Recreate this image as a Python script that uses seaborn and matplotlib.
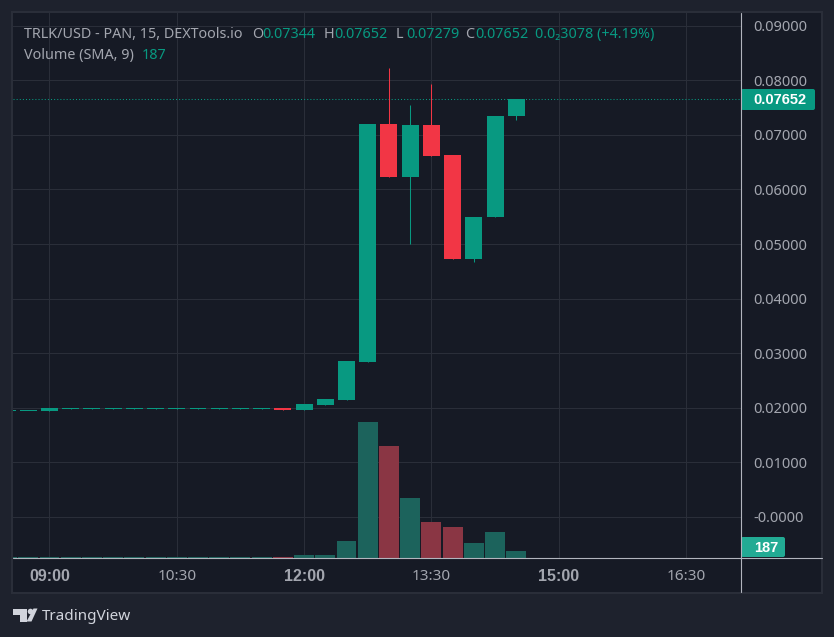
import matplotlib
matplotlib.use('Agg')
import matplotlib.pyplot as plt
import pandas as pd
import seaborn as sns
from matplotlib.lines import Line2D
from matplotlib.patches import Circle, FancyBboxPatch, Polygon

# minutes after midnight for each 15 min candle, 08:30 to 14:30
minutes = [510, 525, 540, 555, 570, 585, 600, 615, 630, 645, 660, 675, 690, 705,
           720, 735, 750, 765, 780, 795, 810, 825, 840, 855, 870]
opens = [.01941, .01941, .01941, .01978, .01978, .01978, .01978, .01978, .01978, .01978,
         .01978, .01978, .01978, .01996, .01960, .02050, .02143, .02839, .07198, .06227,
         .07180, .06630, .04725, .05490, .07344]
closes = [.01959, .01950, .01996, .01996, .01996, .01996, .01996, .01996, .01996, .01996,
          .01996, .01996, .01996, .01960, .02070, .02160, .02857, .07198, .06227, .07180,
          .06610, .04725, .05490, .07344, .07652]
highs = [.01959, .01950, .01996, .01996, .01996, .01996, .01996, .01996, .01996, .01996,
         .01996, .01996, .01996, .01996, .02070, .02160, .02857, .07198, .08223, .07546,
         .07930, .06630, .05490, .07344, .07652]
lows = [.01941, .01941, .01941, .01978, .01978, .01978, .01978, .01978, .01978, .01978,
        .01978, .01978, .01978, .01960, .01960, .02050, .02143, .02839, .06227, .05000,
        .06610, .04725, .04670, .05490, .07279]
volumes = [15, 25, 25, 25, 25, 25, 25, 25, 25, 25, 25, 25, 25, 30, 80, 80, 454,
           3631, 2990, 1602, 961, 828, 400, 694, 187]

price_ticks = [0.0, .01, .02, .03, .04, .05, .06, .07, .08, .09]
price_labels = ['-0.0000', '0.01000', '0.02000', '0.03000', '0.04000', '0.05000',
                '0.06000', '0.07000', '0.08000', '0.09000']
time_ticks = [540, 630, 720, 810, 900, 990]
time_labels = ['09:00', '10:30', '12:00', '13:30', '15:00', '16:30']
bold_times = ['09:00', '12:00', '15:00']
last_price = 0.07652

PANE = '#161A25'
OUTER = '#1E222D'
BORDER = '#2A2E39'
GRID = '#2A2E39'
AXIS = '#B2B5BE'
TEXT = '#A3A6AF'
UP = '#089981'
DOWN = '#F23645'
VOL_UP = '#1C635C'
VOL_DOWN = '#8A3644'

W, H = 834, 637

sns.set_theme(style='dark')
plt.rcParams['font.family'] = ['Noto Sans', 'DejaVu Sans']

df = pd.DataFrame({'minute': minutes, 'open': opens, 'close': closes, 'high': highs,
                   'low': lows, 'volume': volumes})
df['side'] = ['up' if c >= o else 'down' for o, c in zip(df['open'], df['close'])]
df['body'] = (df['close'] - df['open']).abs().clip(lower=0.00018)
df['base'] = df[['open', 'close']].min(axis=1)


def px_rect(x0, y0, x1, y1):
    return [x0 / W, 1 - y1 / H, (x1 - x0) / W, (y1 - y0) / H]


fig = plt.figure(figsize=(W / 100, H / 100), dpi=100, facecolor=OUTER)
fig.add_artist(plt.Rectangle((12 / W, 1 - 593 / H), 810 / W, 581 / H, transform=fig.transFigure,
                             facecolor=PANE, edgecolor=BORDER, linewidth=1.5, zorder=-1))

ax = fig.add_axes(px_rect(13, 13, 741, 558), facecolor=PANE)
vol_ax = ax.twinx()
vol_ax.patch.set_visible(False)

ax.hlines(price_ticks, 0, 2000, color=GRID, linewidth=0.75, zorder=0)
ax.vlines(time_ticks, -1, 1, color=GRID, linewidth=0.75, zorder=0)

for side, color in [('up', UP), ('down', DOWN)]:
    part = df[df['side'] == side]
    ax.vlines(part['minute'], part['low'], part['high'], color=color, linewidth=0.75, zorder=2)
    sns.barplot(data=part, x='minute', y='body', bottom=part['base'].to_numpy(),
                native_scale=True, color=color, saturation=1, width=0.8, linewidth=0,
                zorder=3, ax=ax)

ax.axhline(last_price, color=UP, linewidth=0.75, linestyle=(0, (1, 2)), zorder=1)

# volume twin only shares the bottom of the pane, no candle reaches it
sns.barplot(data=df, x='minute', y='volume', hue='side', dodge=False, native_scale=True,
            palette={'up': VOL_UP, 'down': VOL_DOWN}, saturation=1, width=0.94, legend=False,
            linewidth=0, ax=vol_ax)
vol_ax.set_ylim(0, 545 * 26.7)
vol_ax.set_yticks([])
vol_ax.set_ylabel('')
vol_ax.grid(False)

ax.set_xlim(514.2, 1028.9)
ax.set_ylim(-0.00751, 0.09231)
ax.set_yticks(price_ticks)
ax.set_yticklabels(price_labels)
ax.set_xticks(time_ticks)
ax.set_xticklabels(time_labels)
ax.set_xlabel('')
ax.set_ylabel('')
ax.yaxis.tick_right()
ax.tick_params(axis='y', length=0, pad=9, labelsize=10.5, colors=TEXT)
ax.tick_params(axis='x', length=0, pad=8, labelsize=11, colors=TEXT)
ax.grid(False)
# Noto Sans has no bold cut here
for lbl in ax.get_xticklabels():
    if lbl.get_text() in bold_times:
        lbl.set_fontfamily('Liberation Sans')
        lbl.set_fontweight('bold')
        lbl.set_fontsize(11.5)
for a in (ax, vol_ax):
    for spine in a.spines.values():
        spine.set_visible(False)

# axis lines run past the pane, into the scale areas
fig.add_artist(Line2D([741 / W, 741 / W], [1 - 13 / H, 1 - 592 / H], color=AXIS, linewidth=0.8))
fig.add_artist(Line2D([13 / W, 822 / W], [1 - 558 / H, 1 - 558 / H], color=AXIS, linewidth=0.8))


def tag(x0, y0, x1, y1, color, text, tx):
    fig.add_artist(FancyBboxPatch((x0, H - y1), x1 - x0, y1 - y0, boxstyle='round,pad=0,rounding_size=2',
                                  transform=None, facecolor=color, edgecolor='none'))
    fig.text(tx / W, 1 - ((y0 + y1) / 2 + 0.5) / H, text, color='white', fontsize=10.5, fontweight='bold',
             family='Liberation Sans', ha='center', va='center')


tag(741, 89, 815, 110, UP, '0.07652', 780)
tag(741, 537, 785, 557, '#22AB94', '187', 766)

# legend rows: (x pixel, text, color)
rows = [(24, 33, 'TRLK/USD - PAN, 15, DEXTools.io', TEXT), (252, 33, 'O', TEXT), (262, 33, '0.07344', UP),
        (324, 33, 'H', TEXT), (334, 33, '0.07652', UP), (396, 33, 'L', TEXT), (406, 33, '0.07279', UP),
        (465, 33, 'C', TEXT), (475, 33, '0.07652', UP), (535, 33, '0.0\u20823078 (+4.19%)', UP),
        (24, 54, 'Volume (SMA, 9)', TEXT), (142, 54, '187', UP)]
for x, y, s, c in rows:
    fig.text(x / W, 1 - (y + 1.5) / H, s, color=c, fontsize=10.35, ha='left', va='center')

# TradingView mark
LOGO = '#D1D4DC'
for pts in ([(13, 608.5), (27, 608.5), (27, 621.5), (20, 621.5), (20, 615), (13, 615)],
            [(33.5, 608.5), (37.5, 608.5), (31.5, 621.5), (26.5, 621.5)]):
    fig.add_artist(Polygon([(x / W, 1 - y / H) for x, y in pts], closed=True, transform=fig.transFigure,
                           facecolor=LOGO, edgecolor='none'))
fig.add_artist(Circle((30.5, H - 611.5), 2.8, transform=None, facecolor=LOGO, edgecolor='none'))
fig.text(42 / W, 1 - 616 / H, 'TradingView', color=LOGO, fontsize=11, ha='left', va='center')

fig.savefig('out.png', dpi=100, facecolor=OUTER)
